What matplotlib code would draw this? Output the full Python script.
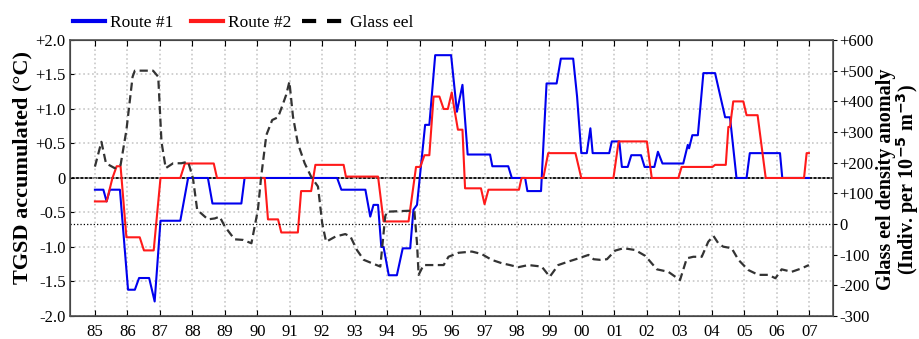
import matplotlib.pyplot as plt

plt.rcParams['font.family'] = ['Liberation Serif', 'DejaVu Serif']

# Route #1 (TGSD accumulated, ºC)
r1_x = [1985.0, 1985.26, 1985.36, 1985.46, 1985.77, 1986.02, 1986.23, 1986.36, 1986.67, 1986.84,
        1987.02, 1987.63, 1987.87, 1988.48, 1988.62, 1989.51, 1989.61, 1992.46, 1992.59, 1993.33,
        1993.48, 1993.58, 1993.72, 1993.82, 1993.89, 1994.05, 1994.3, 1994.48, 1994.71, 1994.81,
        1994.92, 1995.17, 1995.3, 1995.48, 1995.97, 1996.15, 1996.32, 1996.48, 1997.17, 1997.24,
        1997.73, 1997.84, 1998.25, 1998.32, 1998.74, 1998.91, 1999.22, 1999.35, 1999.73, 1999.85,
        1999.98, 2000.15, 2000.26, 2000.33, 2000.84, 2000.92, 2001.15, 2001.23, 2001.41, 2001.52,
        2001.82, 2001.93, 2002.23, 2002.34, 2002.48, 2003.12, 2003.26, 2003.3, 2003.4, 2003.57,
        2003.74, 2004.1, 2004.41, 2004.56, 2004.76, 2005.07, 2005.17, 2006.1, 2006.17, 2006.99]
r1_y = [-0.17, -0.17, -0.34, -0.17, -0.17, -1.62, -1.62, -1.45, -1.45, -1.79,
        -0.62, -0.62, 0, 0, -0.37, -0.37, 0, 0, -0.17, -0.17,
        -0.56, -0.39, -0.39, -1.0, -1.0, -1.41, -1.41, -1.02, -1.02, -0.46,
        -0.39, 0.77, 0.77, 1.78, 1.78, 0.96, 1.35, 0.34, 0.34, 0.17,
        0.17, 0, 0, -0.19, -0.19, 1.37, 1.37, 1.73, 1.73, 1.18,
        0.36, 0.36, 0.72, 0.36, 0.36, 0.53, 0.53, 0.16, 0.16, 0.33,
        0.33, 0.16, 0.16, 0.38, 0.21, 0.21, 0.48, 0.43, 0.62, 0.62,
        1.52, 1.52, 0.88, 0.88, 0, 0, 0.36, 0.36, 0, 0]

# Route #2 (TGSD accumulated, ºC)
r2_x = [1985.0, 1985.36, 1985.54, 1985.67, 1985.79, 1985.97, 1986.38, 1986.51, 1986.81, 1987.02,
        1987.63, 1987.77, 1988.66, 1988.76, 1990.23, 1990.33, 1990.64, 1990.74, 1991.25, 1991.35,
        1991.66, 1991.79, 1992.66, 1992.73, 1993.72, 1993.89, 1994.66, 1994.89, 1995.02, 1995.15,
        1995.3, 1995.43, 1995.61, 1995.74, 1995.87, 1995.99, 1996.07, 1996.18, 1996.32, 1996.4,
        1996.89, 1997.0, 1997.12, 1998.06, 1998.14, 1998.81, 1998.96, 1999.8, 1999.98, 2000.97,
        2001.13, 2002.0, 2002.15, 2002.97, 2003.07, 2004.02, 2004.1, 2004.43, 2004.51, 2004.56,
        2004.66, 2004.97, 2005.07, 2005.41, 2005.66, 2006.84, 2006.92, 2006.99]
r2_y = [-0.34, -0.34, 0, 0.17, 0.17, -0.86, -0.86, -1.05, -1.05, 0,
        0, 0.21, 0.21, 0, 0, -0.6, -0.6, -0.79, -0.79, -0.19,
        -0.19, 0.19, 0.19, 0.02, 0.02, -0.63, -0.63, 0.16, 0.16, 0.33,
        0.33, 1.18, 1.18, 1.0, 1.0, 1.24, 1.0, 0.7, 0.7, -0.15,
        -0.15, -0.38, -0.17, -0.17, 0, 0, 0.36, 0.36, 0, 0,
        0.53, 0.53, 0, 0, 0.16, 0.16, 0.19, 0.19, 0.74, 0.74,
        1.11, 1.11, 0.91, 0.91, 0, 0, 0.36, 0.36]

# Glass eel density anomaly (Indiv. per 10^-5 m^-3)
eel_x = [1985.0, 1985.2, 1985.34, 1985.61, 1985.79, 1985.97, 1986.16, 1986.23, 1986.79, 1986.95,
         1987.05, 1987.18, 1987.41, 1987.66, 1987.87, 1988.02, 1988.15, 1988.48, 1988.69, 1988.84,
         1989.0, 1989.3, 1989.56, 1989.82, 1990.02, 1990.12, 1990.28, 1990.46, 1990.64, 1990.79,
         1990.89, 1990.99, 1991.1, 1991.25, 1991.46, 1991.66, 1991.87, 1992.0, 1992.12, 1992.41,
         1992.71, 1992.87, 1993.07, 1993.28, 1993.58, 1993.79, 1993.94, 1993.99, 1994.66, 1994.84,
         1994.92, 1994.97, 1995.12, 1995.74, 1995.89, 1996.2, 1996.61, 1996.91, 1997.22, 1997.53,
         1997.78, 1998.04, 1998.35, 1998.76, 1999.01, 1999.27, 1999.6, 1999.9, 2000.2, 2000.36,
         2000.56, 2000.77, 2001.02, 2001.28, 2001.64, 2001.95, 2002.31, 2002.66, 2003.02, 2003.23,
         2003.43, 2003.69, 2003.89, 2004.05, 2004.2, 2004.35, 2004.61, 2004.82, 2005.12, 2005.43,
         2005.74, 2005.96, 2006.15, 2006.46, 2006.76, 2006.99]
eel_y = [187, 268, 198, 182, 192, 306, 480, 500, 500, 480,
         268, 182, 198, 198, 203, 149, 46, 15, 18, 24,
         -8, -50, -52, -63, 46, 154, 290, 339, 348, 391,
         421, 464, 350, 263, 198, 154, 122, 2, -58, -41,
         -33, -41, -85, -117, -130, -139, 24, 40, 43, 40,
         -63, -166, -134, -134, -107, -94, -90, -98, -117, -128,
         -134, -141, -134, -139, -172, -134, -122, -112, -101, -115,
         -117, -115, -87, -79, -85, -104, -148, -156, -183, -112,
         -107, -107, -58, -39, -63, -74, -79, -117, -150, -166,
         -166, -177, -148, -156, -145, -134]

years = list(range(1985, 2008))
year_labels = ['%02d' % (y % 100) for y in years]
left_ticks = [2.0, 1.5, 1.0, 0.5, 0, -0.5, -1.0, -1.5, -2.0]
left_labels = ['+2.0', '+1.5', '+1.0', '+0.5', '0', '-0.5', '-1.0', '-1.5', '-2.0']
right_ticks = [600, 500, 400, 300, 200, 100, 0, -100, -200, -300]
right_labels = ['+600', '+500', '+400', '+300', '+200', '+100', '0', '-100', '-200', '-300']

fig = plt.figure(figsize=(9.2, 3.39), dpi=100)
ax = fig.add_axes([0.076, 0.068, 0.829, 0.814])
ax2 = ax.twinx()

ax.grid(True, color='#c8c8c8', linestyle=':', linewidth=1.2)
ax.axhline(0, color='k', lw=1.3, zorder=1)
l1, = ax.plot(r1_x, r1_y, color='#0000ee', lw=1.5, label='Route #1', zorder=3)
l2, = ax.plot(r2_x, r2_y, color='#ff1a1a', lw=1.5, label='Route #2', zorder=3)

ax2.axhline(0, color='k', lw=0.9, ls=':')
l3, = ax2.plot(eel_x, eel_y, color='#333333', lw=1.6, ls=(0, (3.7, 2.0)), label='Glass eel')

ax.set_xlim(1984.23, 2007.72)
ax.set_ylim(-2, 2)
ax2.set_ylim(-300, 600)
ax.set_xticks(years)
ax.set_xticklabels(year_labels, fontsize=12)
ax.set_yticks(left_ticks)
ax.set_yticklabels(left_labels, fontsize=12)
ax2.set_yticks(right_ticks)
ax2.set_yticklabels(right_labels, fontsize=12)
ax.tick_params(axis='x', direction='in', top=True, length=4, pad=6)
ax.tick_params(axis='y', direction='in', length=3, pad=3)
ax2.tick_params(axis='y', direction='out', length=3, pad=2)

for sp in ax2.spines.values():
    sp.set_color('#555555')
    sp.set_linewidth(1.2)

fig.text(0.024, 0.505, 'TGSD accumulated (°C)', rotation=90, ha='center', va='center',
         fontsize=16, fontweight='bold')
fig.text(0.9765, 0.472,
         'Glass eel density anomaly\n(Indiv. per 10$^{\\mathbf{-5}}$ m$^{\\mathbf{-3}}$)',
         rotation=90, ha='center', va='center', multialignment='center',
         fontsize=14.5, fontweight='bold', linespacing=0.92)

# two legends so the dashed handle can be longer, as in the reference
leg1 = fig.legend(handles=[l1, l2], loc='center left', bbox_to_anchor=(0.079, 0.932),
                  ncol=2, frameon=False, fontsize=12.5, handlelength=1.85, columnspacing=1.0,
                  handletextpad=0.3, borderaxespad=0, borderpad=0)
leg2 = fig.legend(handles=[l3], loc='center left', bbox_to_anchor=(0.328, 0.932),
                  frameon=False, fontsize=12.5, handlelength=2.45, handletextpad=0.35,
                  borderaxespad=0, borderpad=0)
for h in leg1.get_lines():
    h.set_linewidth(3)
for h in leg2.get_lines():
    h.set_linewidth(3)
    h.set_linestyle((0, (3.4, 2.6)))
    h.set_color('k')

plt.savefig('out.png', dpi=100)
